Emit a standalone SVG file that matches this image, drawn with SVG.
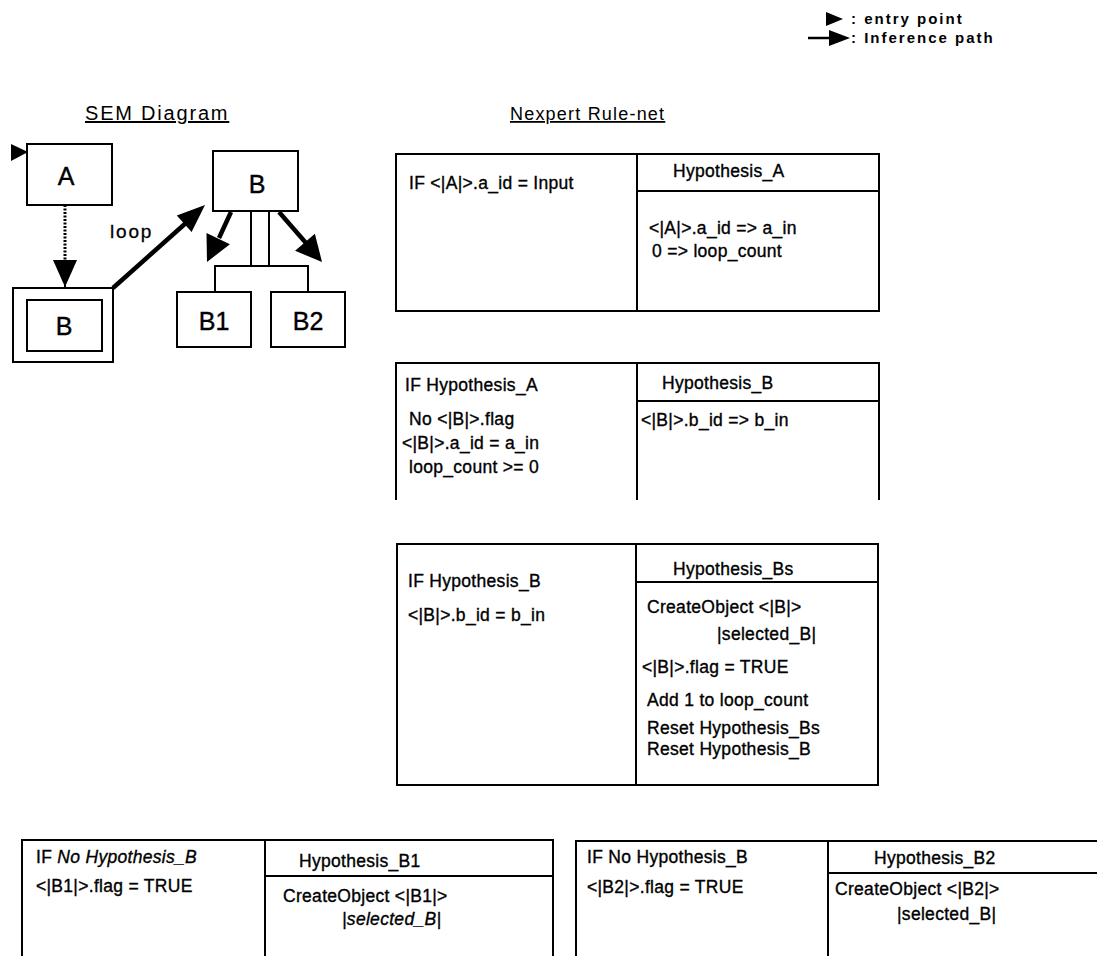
<svg xmlns="http://www.w3.org/2000/svg" width="1097" height="956" viewBox="0 0 1097 956">
<style>
text{font-family:"Liberation Sans",Arial,sans-serif;fill:#000}
.t{font-size:17.5px;letter-spacing:0.3px;stroke:#000;stroke-width:0.35px}
.lg{font-size:15px;font-weight:bold;letter-spacing:2px}
.ti{font-size:18px;letter-spacing:1.2px;text-decoration:underline}
.big{font-size:25px;text-anchor:middle;stroke:#000;stroke-width:0.4px}
.box{fill:none;stroke:#000;stroke-width:2}
.ln{fill:none;stroke:#000;stroke-width:2}
.thick{fill:none;stroke:#000;stroke-width:4.5}
.dot{fill:none;stroke:#000;stroke-width:3;stroke-dasharray:2 1.5}
</style>
<rect width="1097" height="956" fill="#fff"/>

<g id="legend">
<polygon points="826,12 826,26 843,19" fill="#000"/>
<text class="lg" x="851" y="24">: entry point</text>
<line x1="808" y1="38" x2="834" y2="38" stroke="#000" stroke-width="2.5"/>
<polygon points="829,30 829,46 850,38" fill="#000"/>
<text class="lg" x="851" y="43">: Inference path</text>
</g>

<g id="titles">
<text class="ti" x="85" y="120" style="font-size:20px;letter-spacing:1.8px">SEM Diagram</text>
<text class="ti" x="510" y="120">Nexpert Rule-net</text>
</g>

<g id="sem-A">
<rect class="box" x="27" y="144" width="85" height="61"/>
<polygon points="11,144 11,161 28,152" fill="#000"/>
<text class="big" x="66" y="185">A</text>
</g>
<g id="sem-B-loop">
<rect class="box" x="13" y="288" width="100" height="74"/>
<rect class="box" x="27" y="300" width="75" height="51"/>
<text class="big" x="64" y="335">B</text>
</g>
<g id="sem-B">
<rect class="box" x="213" y="151" width="85" height="60"/>
<text class="big" x="257" y="193">B</text>
</g>
<g id="sem-B1">
<rect class="box" x="177" y="292" width="74" height="55"/>
<text class="big" x="214" y="330">B1</text>
</g>
<g id="sem-B2">
<rect class="box" x="271" y="292" width="74" height="55"/>
<text class="big" x="308" y="330">B2</text>
</g>

<g id="connectors">
<line class="dot" x1="65" y1="205" x2="65" y2="262"/>
<polygon points="53,260 77,260 65,287" fill="#000"/>
<line class="ln" x1="65" y1="284" x2="65" y2="288"/>
<line class="thick" x1="113" y1="288" x2="187" y2="222"/>
<polygon points="191.6,231.9 176.8,215.5 205,205" fill="#000"/>
<text x="110" y="238" style="font-size:19px;letter-spacing:1.8px;stroke:#000;stroke-width:0.3px">loop</text>
<line class="thick" x1="231" y1="212" x2="219" y2="238"/>
<polygon points="229.9,244.2 206.5,233 207,262" fill="#000"/>
<line class="thick" x1="279" y1="212" x2="306" y2="243"/>
<polygon points="314.9,233.8 295.1,250.8 322,262" fill="#000"/>
<line class="ln" x1="251" y1="211" x2="251" y2="266"/>
<line class="ln" x1="269" y1="211" x2="269" y2="266"/>
<polyline class="ln" points="215,292 215,266 308,266 308,292"/>
</g>

<g id="rule-A">
<rect class="box" x="396" y="154" width="483" height="157"/>
<line class="ln" x1="637" y1="154" x2="637" y2="311"/>
<line class="ln" x1="637" y1="191" x2="879" y2="191"/>
<text class="t" x="409" y="189">IF &lt;|A|&gt;.a_id = Input</text>
<text class="t" x="673" y="177">Hypothesis_A</text>
<text class="t" x="649" y="234">&lt;|A|&gt;.a_id =&gt; a_in</text>
<text class="t" x="652" y="257">0 =&gt; loop_count</text>
</g>

<g id="rule-B">
<polyline class="box" points="396,500 396,363 879,363 879,500"/>
<line class="ln" x1="637" y1="363" x2="637" y2="500"/>
<line class="ln" x1="637" y1="401" x2="879" y2="401"/>
<text class="t" x="405" y="391">IF  Hypothesis_A</text>
<text class="t" x="409" y="425">No &lt;|B|&gt;.flag</text>
<text class="t" x="402" y="449">&lt;|B|&gt;.a_id = a_in</text>
<text class="t" x="409" y="473">loop_count &gt;= 0</text>
<text class="t" x="662" y="389">Hypothesis_B</text>
<text class="t" x="641" y="426">&lt;|B|&gt;.b_id =&gt; b_in</text>
</g>

<g id="rule-Bs">
<rect class="box" x="397" y="544" width="481" height="241"/>
<line class="ln" x1="636" y1="544" x2="636" y2="785"/>
<line class="ln" x1="636" y1="582" x2="878" y2="582"/>
<text class="t" x="408" y="587">IF  Hypothesis_B</text>
<text class="t" x="408" y="621">&lt;|B|&gt;.b_id = b_in</text>
<text class="t" x="673" y="575">Hypothesis_Bs</text>
<text class="t" x="647" y="613">CreateObject &lt;|B|&gt;</text>
<text class="t" x="717" y="640">|selected_B|</text>
<text class="t" x="642" y="673">&lt;|B|&gt;.flag = TRUE</text>
<text class="t" x="647" y="706">Add 1 to loop_count</text>
<text class="t" x="647" y="734">Reset Hypothesis_Bs</text>
<text class="t" x="647" y="755">Reset Hypothesis_B</text>
</g>

<g id="rule-B1">
<polyline class="box" points="22,958 22,840 553,840 553,958"/>
<line class="ln" x1="265" y1="840" x2="265" y2="958"/>
<line class="ln" x1="265" y1="876" x2="553" y2="876"/>
<text class="t" x="36" y="863">IF  <tspan font-style="italic">No Hypothesis_B</tspan></text>
<text class="t" x="36" y="892">&lt;|B1|&gt;.flag = TRUE</text>
<text class="t" x="299" y="867">Hypothesis_B1</text>
<text class="t" x="283" y="902">CreateObject &lt;|B1|&gt;</text>
<text class="t" x="342" y="925" font-style="italic">|selected_B|</text>
</g>

<g id="rule-B2">
<polyline class="box" points="576,958 576,841 1099,841"/>
<line class="ln" x1="828" y1="841" x2="828" y2="958"/>
<line class="ln" x1="828" y1="873" x2="1099" y2="873"/>
<text class="t" x="587" y="863">IF  No Hypothesis_B</text>
<text class="t" x="587" y="893">&lt;|B2|&gt;.flag = TRUE</text>
<text class="t" x="874" y="864">Hypothesis_B2</text>
<text class="t" x="835" y="895">CreateObject &lt;|B2|&gt;</text>
<text class="t" x="897" y="920">|selected_B|</text>
</g>
</svg>
